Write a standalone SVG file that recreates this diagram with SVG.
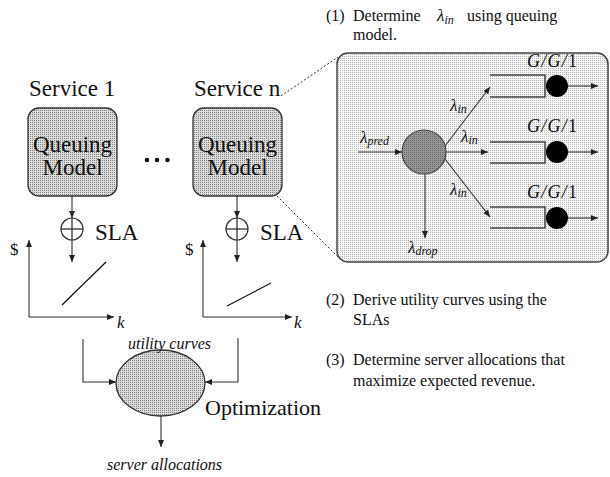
<svg xmlns="http://www.w3.org/2000/svg" width="610" height="477" viewBox="0 0 610 477">
  <defs>
    <!-- stippled fills -->
    <pattern id="dotsMid" width="2" height="2" patternUnits="userSpaceOnUse">
      <rect width="2" height="2" fill="#dcdcdc"/>
      <rect width="1" height="1" fill="#808080"/>
    </pattern>
    <pattern id="dotsLight" width="2" height="2" patternUnits="userSpaceOnUse">
      <rect width="2" height="2" fill="#f8f8f8"/>
      <rect width="1" height="1" fill="#b8b8b8"/>
    </pattern>
    <pattern id="dotsDark" width="2" height="2" patternUnits="userSpaceOnUse">
      <rect width="2" height="2" fill="#969696"/>
      <rect width="1" height="1" fill="#666666"/>
    </pattern>
    <marker id="arr" markerWidth="7" markerHeight="6" refX="7" refY="3" orient="auto" markerUnits="userSpaceOnUse">
      <path d="M0,0 L7,3 L0,6 z" fill="#222"/>
    </marker>
    <style>
      text { font-family: 'Liberation Serif', 'DejaVu Serif', 'Noto Serif', serif; fill: #111; }
      .big { font-size: 23px; }
      .note { font-size: 16px; }
      .ital { font-style: italic; }
      .line { stroke: #333; stroke-width: 1.3; fill: none; }
      .arrow { stroke: #333; stroke-width: 1.1; fill: none; marker-end: url(#arr); }
      .dash { stroke: #333; stroke-width: 1; stroke-dasharray: 2 2; fill: none; }
      .qbox { fill: url(#dotsMid); stroke: #333; stroke-width: 1.3; }
      .queue { stroke: #444; stroke-width: 1.5; fill: none; }
    </style>
  </defs>

  <g font-family="'Liberation Serif', 'DejaVu Serif', serif">
  <!-- connectors -->
  <g id="connectors">
    <line class="dash" x1="281" y1="96" x2="338" y2="57"/>
    <line class="dash" x1="277" y1="196" x2="340" y2="259"/>
    <line class="arrow" x1="72" y1="196" x2="72" y2="218"/>
    <line class="arrow" x1="72" y1="240" x2="72" y2="262"/>
    <line class="arrow" x1="237" y1="196" x2="237" y2="218"/>
    <line class="arrow" x1="237" y1="240" x2="237" y2="262"/>
    <polyline class="arrow" points="83,339 83,382 116,382"/>
    <polyline class="arrow" points="238,338 238,382 205,382"/>
    <line class="arrow" x1="161" y1="416" x2="161" y2="447"/>
  </g>

  <!-- service 1 -->
  <g id="service1">
    <text class="big" x="29" y="96">Service 1</text>
    <rect class="qbox" x="28" y="108" width="89" height="88" rx="11"/>
    <text class="big" x="72.5" y="152" text-anchor="middle">Queuing</text>
    <text class="big" x="72.5" y="175" text-anchor="middle">Model</text>
  </g>

  <g id="ellipsis">
    <circle cx="147" cy="160" r="2.3" fill="#111"/>
    <circle cx="157" cy="160" r="2.3" fill="#111"/>
    <circle cx="167.5" cy="160" r="2.3" fill="#111"/>
  </g>

  <!-- service n -->
  <g id="serviceN">
    <text class="big" x="194" y="96">Service n</text>
    <rect class="qbox" x="193" y="108" width="89" height="88" rx="11"/>
    <text class="big" x="237.5" y="152" text-anchor="middle">Queuing</text>
    <text class="big" x="237.5" y="175" text-anchor="middle">Model</text>
  </g>

  <!-- SLA combiners -->
  <g id="sla1">
    <circle cx="72" cy="229" r="11" fill="none" stroke="#333" stroke-width="1.2"/>
    <line class="line" x1="61" y1="229" x2="83" y2="229"/>
    <line class="line" x1="72" y1="218" x2="72" y2="240"/>
    <text class="big" x="95" y="240">SLA</text>
  </g>
  <g id="slaN">
    <circle cx="237" cy="229" r="11" fill="none" stroke="#333" stroke-width="1.2"/>
    <line class="line" x1="226" y1="229" x2="248" y2="229"/>
    <line class="line" x1="237" y1="218" x2="237" y2="240"/>
    <text class="big" x="260" y="240">SLA</text>
  </g>

  <!-- utility curve plots -->
  <g id="plot1">
    <line class="arrow" x1="29" y1="317" x2="29" y2="240"/>
    <line class="arrow" x1="29" y1="317" x2="114" y2="317"/>
    <line stroke="#111" stroke-width="1.2" x1="62" y1="305" x2="106" y2="262"/>
    <text font-size="17" x="10" y="255">$</text>
    <text class="ital" font-size="17" x="117" y="328">k</text>
  </g>
  <g id="plotN">
    <line class="arrow" x1="203" y1="317" x2="203" y2="240"/>
    <line class="arrow" x1="203" y1="317" x2="292" y2="317"/>
    <line stroke="#111" stroke-width="1.2" x1="227" y1="306" x2="271" y2="283"/>
    <text font-size="17" x="185" y="255">$</text>
    <text class="ital" font-size="17" x="294" y="328">k</text>
  </g>

  <!-- optimization -->
  <g id="optimization">
    <ellipse cx="160.5" cy="383" rx="44.5" ry="33" fill="url(#dotsMid)" stroke="#333" stroke-width="1.3"/>
    <text class="ital" font-size="16" x="128" y="349">utility curves</text>
    <text font-size="22" x="205" y="415">Optimization</text>
    <text class="ital" font-size="16" x="107" y="470">server allocations</text>
  </g>

  <!-- queuing model detail -->
  <g id="detail">
    <rect x="337" y="53" width="271" height="209" rx="11" fill="url(#dotsLight)" stroke="#444" stroke-width="1.5"/>
    <line class="arrow" x1="358" y1="152" x2="402" y2="152"/>
    <line class="arrow" x1="425" y1="174" x2="425" y2="238"/>
    <line class="arrow" x1="445" y1="146" x2="490" y2="87"/>
    <line class="arrow" x1="446" y1="152" x2="488" y2="152"/>
    <line class="arrow" x1="445" y1="159" x2="490" y2="217"/>
    <circle cx="424" cy="152" r="22" fill="url(#dotsDark)" stroke="#444" stroke-width="1.2"/>

    <text class="ital" font-size="17" x="360" y="143">λ<tspan font-size="12" dy="2">pred</tspan></text>
    <text class="ital" font-size="17" x="408" y="253">λ<tspan font-size="12" dy="2">drop</tspan></text>
    <text class="ital" font-size="17" x="450" y="111">λ<tspan font-size="12" dy="2">in</tspan></text>
    <text class="ital" font-size="17" x="461" y="142">λ<tspan font-size="12" dy="2">in</tspan></text>
    <text class="ital" font-size="17" x="450" y="195">λ<tspan font-size="12" dy="2">in</tspan></text>

    <g id="queue1">
      <path class="queue" d="M490,75 H545 V97 H490"/>
      <circle cx="557" cy="86" r="11" fill="#000"/>
      <line class="arrow" x1="568" y1="86" x2="598" y2="86"/>
      <text class="ital" font-size="18" x="527" y="67" textLength="50">G/G/<tspan font-style="normal">1</tspan></text>
    </g>
    <g id="queue2">
      <path class="queue" d="M490,142 H545 V163 H490"/>
      <circle cx="557" cy="152" r="11" fill="#000"/>
      <line class="arrow" x1="568" y1="152" x2="598" y2="152"/>
      <text class="ital" font-size="18" x="527" y="132" textLength="50">G/G/<tspan font-style="normal">1</tspan></text>
    </g>
    <g id="queue3">
      <path class="queue" d="M490,207 H545 V228 H490"/>
      <circle cx="557" cy="218" r="11" fill="#000"/>
      <line class="arrow" x1="568" y1="218" x2="598" y2="218"/>
      <text class="ital" font-size="18" x="527" y="198" textLength="50">G/G/<tspan font-style="normal">1</tspan></text>
    </g>
  </g>

  <!-- step notes -->
  <g id="step1">
    <text class="note" x="326" y="21">(1)</text>
    <text class="note" x="353" y="21">Determine</text>
    <text class="ital" font-size="17" x="437" y="21">λ<tspan font-size="12" dy="3">in</tspan></text>
    <text class="note" x="467" y="21">using queuing</text>
    <text class="note" x="353" y="40">model.</text>
  </g>
  <g id="step2">
    <text class="note" x="326" y="305">(2)</text>
    <text class="note" x="353" y="305">Derive utility curves using the</text>
    <text class="note" x="353" y="325">SLAs</text>
  </g>
  <g id="step3">
    <text class="note" x="326" y="365">(3)</text>
    <text class="note" x="353" y="365">Determine server allocations that</text>
    <text class="note" x="353" y="386">maximize expected revenue.</text>
  </g>
  </g>
</svg>
